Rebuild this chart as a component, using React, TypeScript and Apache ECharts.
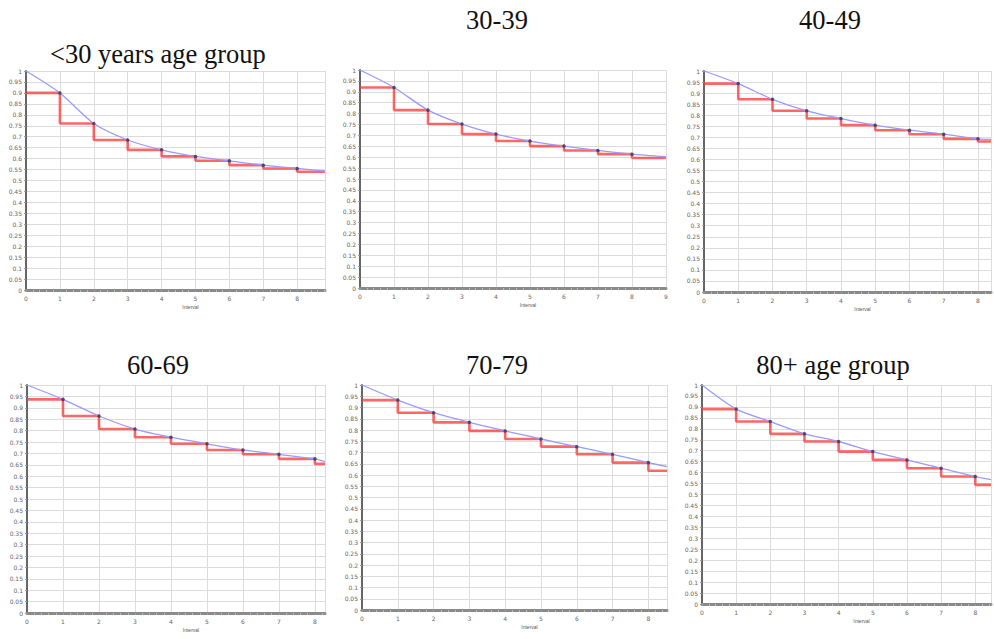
import React, { useEffect, useRef } from "react";
import * as echarts from "echarts";

// Panel titles
const panelTitles = ["<30 years age group", "30-39", "40-49", "60-69", "70-79", "80+ age group"];

// Red step heights on each interval [k, k+1) for k = 0..8
const stepUnder30 = [0.9, 0.76, 0.685, 0.64, 0.61, 0.59, 0.57, 0.555, 0.54];
const step30to39 = [0.92, 0.816, 0.752, 0.706, 0.674, 0.651, 0.631, 0.614, 0.596];
const step40to49 = [0.943, 0.872, 0.82, 0.785, 0.755, 0.732, 0.714, 0.693, 0.681];
const step60to69 = [0.937, 0.864, 0.807, 0.771, 0.742, 0.715, 0.696, 0.676, 0.654];
const step70to79 = [0.933, 0.877, 0.834, 0.796, 0.76, 0.726, 0.692, 0.655, 0.619];
const step80plus = [0.89, 0.833, 0.777, 0.742, 0.696, 0.658, 0.62, 0.582, 0.544];

// Blue fitted curve at x = 0..8, last value at the right edge of the axis
const curveUnder30 = [1, 0.9, 0.76, 0.685, 0.64, 0.61, 0.59, 0.57, 0.555, 0.543];
const curve30to39 = [1, 0.92, 0.816, 0.752, 0.706, 0.674, 0.651, 0.631, 0.614, 0.602];
const curve40to49 = [1, 0.943, 0.872, 0.82, 0.785, 0.755, 0.732, 0.714, 0.693, 0.69];
const curve60to69 = [1, 0.937, 0.864, 0.807, 0.771, 0.742, 0.715, 0.696, 0.676, 0.664];
const curve70to79 = [1, 0.933, 0.877, 0.834, 0.796, 0.76, 0.726, 0.692, 0.655, 0.637];
const curve80plus = [1, 0.89, 0.833, 0.777, 0.742, 0.696, 0.658, 0.62, 0.582, 0.568];

const stepSets = [stepUnder30, step30to39, step40to49, step60to69, step70to79, step80plus];
const curveSets = [curveUnder30, curve30to39, curve40to49, curve60to69, curve70to79, curve80plus];

const xAxisName = "Interval";

// Layout (pixels) and axis extents
const layout = [
  { left: 26, top: 71, width: 299, height: 219, xMax: 8.82 },
  { left: 360, top: 70, width: 306, height: 218, xMax: 9 },
  { left: 704, top: 71, width: 290, height: 221, xMax: 8.38 },
  { left: 27, top: 385, width: 298, height: 228, xMax: 8.28 },
  { left: 362, top: 385, width: 305, height: 225, xMax: 8.52 },
  { left: 702, top: 385, width: 292, height: 219, xMax: 8.46 },
];
const titlePos = [
  { x: 50, y: 54, align: "left" },
  { x: 497, y: 20, align: "center" },
  { x: 830, y: 20, align: "center" },
  { x: 158, y: 365, align: "center" },
  { x: 497, y: 365, align: "center" },
  { x: 833, y: 365, align: "center" },
];

export default function App() {
  const ref = useRef<HTMLDivElement>(null);
  useEffect(() => {
    if (!ref.current) return;
    const chart = echarts.init(ref.current, null, { renderer: "svg" });
    const grids: any[] = [];
    const xAxes: any[] = [];
    const yAxes: any[] = [];
    const series: any[] = [];
    const labelStyle = { fontSize: 6, color: "#666", fontFamily: "DejaVu Sans" };

    layout.forEach((g, i) => {
      grids.push({ left: g.left, top: g.top, width: g.width, height: g.height, containLabel: false });
      xAxes.push({
        type: "value",
        gridIndex: i,
        min: 0,
        max: g.xMax,
        interval: 1,
        name: xAxisName,
        nameLocation: "middle",
        nameGap: 14,
        nameTextStyle: { fontSize: 5, color: "#555", padding: [0, 0, 0, 30] },
        axisLine: { show: true, onZero: false, lineStyle: { color: "#8a8a8a", width: 3 } },
        axisTick: { show: true, length: 2, lineStyle: { color: "#999" } },
        minorTick: { show: true, splitNumber: 5, length: 2, lineStyle: { color: "#bbb" } },
        axisLabel: {
          ...labelStyle,
          margin: 5,
          formatter: (v: number) => (Number.isInteger(v) ? String(v) : ""),
        },
        splitLine: { show: true, lineStyle: { color: "#dcdcdc", width: 1 } },
      });
      yAxes.push({
        type: "value",
        gridIndex: i,
        min: 0,
        max: 1,
        interval: 0.05,
        axisLine: { show: true, onZero: false, lineStyle: { color: "#666", width: 2 } },
        axisTick: { show: true, length: 2, lineStyle: { color: "#999" } },
        axisLabel: {
          ...labelStyle,
          margin: 4,
          formatter: (v: number) => String(parseFloat(v.toFixed(2))),
        },
        splitLine: { show: true, lineStyle: { color: "#dcdcdc", width: 1 } },
      });

      const steps = stepSets[i];
      const stepData = steps.map((v, k) => [k, v]);
      stepData.push([g.xMax, steps[steps.length - 1]]);
      const curve = curveSets[i];
      const curveData = curve.map((v, k) => [k < curve.length - 1 ? k : g.xMax, v]);
      const markerData = curve.slice(1, 9).map((v, k) => [k + 1, v]);

      series.push({
        type: "line",
        xAxisIndex: i,
        yAxisIndex: i,
        step: "end",
        data: stepData,
        symbol: "none",
        lineStyle: { color: "#ff3b3b", width: 2.6, opacity: 0.78 },
        z: 2,
      });
      series.push({
        type: "line",
        xAxisIndex: i,
        yAxisIndex: i,
        smooth: 0.25,
        data: curveData,
        symbol: "none",
        lineStyle: { color: "#9a9aff", width: 1.3 },
        z: 3,
      });
      series.push({
        type: "scatter",
        xAxisIndex: i,
        yAxisIndex: i,
        data: markerData,
        symbolSize: 3.5,
        itemStyle: { color: "#333355" },
        z: 4,
      });
    });

    const graphic = panelTitles.map((t, i) => ({
      type: "text",
      x: titlePos[i].x,
      y: titlePos[i].y,
      style: {
        text: t,
        fontSize: 26.5,
        fontFamily: "Liberation Serif, Times New Roman, serif",
        fill: "#111",
        align: titlePos[i].align,
        verticalAlign: "middle",
      },
    }));

    chart.setOption({
      animation: false,
      backgroundColor: "#ffffff",
      grid: grids,
      xAxis: xAxes,
      yAxis: yAxes,
      series,
      graphic,
    });
    return () => chart.dispose();
  }, []);
  return (
    <div
      ref={ref}
      style={{ position: "fixed", left: 0, top: 0, width: 994, height: 639, background: "#fff" }}
    />
  );
}
